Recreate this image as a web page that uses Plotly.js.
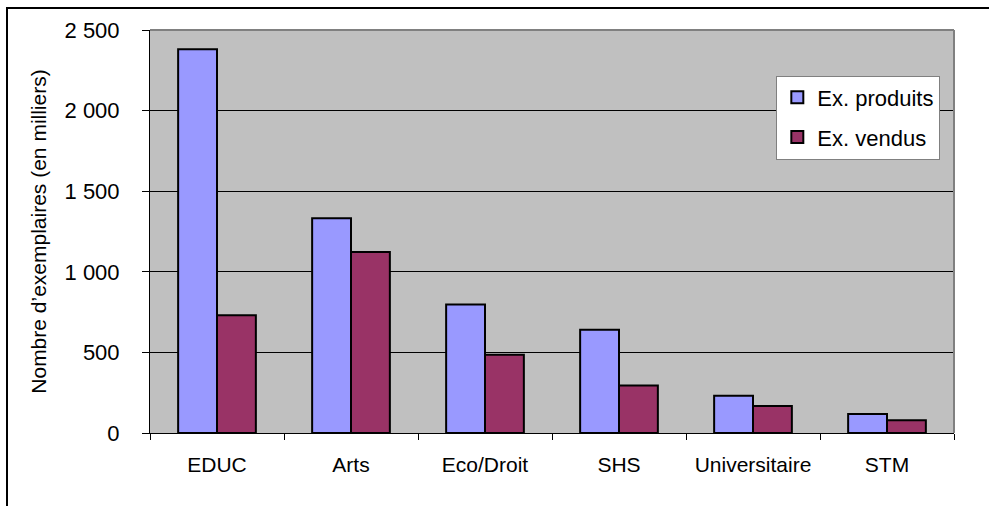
<!DOCTYPE html>
<html>
<head>
<meta charset="utf-8">
<script src="https://cdn.plot.ly/plotly-3.0.1.min.js"></script>
<style>
html,body{margin:0;padding:0;background:#fff;overflow:hidden;}
#wrap{position:relative;width:989px;height:506px;}
#chart{position:absolute;left:0;top:0;width:989px;height:506px;}
#frame{position:absolute;left:6px;top:7px;width:1000px;height:520px;border:2px solid #000;pointer-events:none;}
</style>
</head>
<body>
<div id="wrap"><div id="chart"></div><div id="frame"></div></div>
<script>
const categories = ["EDUC", "Arts", "Eco/Droit", "SHS", "Universitaire", "STM"];
const produits = [2380, 1332, 797, 640, 231, 118];
const vendus = [731, 1123, 485, 295, 167, 79];
const seriesNames = ["Ex. produits", "Ex. vendus"];
const yTickVals = [0, 500, 1000, 1500, 2000, 2500];
const yTickText = ["0", "500", "1 000", "1 500", "2 000", "2 500"];

const font = "Liberation Sans, Arial, sans-serif";

const traces = [
  {type: "bar", x: categories, y: produits, name: seriesNames[0], legendgroup: "a",
   marker: {color: "#9999FF", line: {color: "#000", width: 2}}},
  {type: "bar", x: categories, y: vendus, name: seriesNames[1], legendgroup: "b",
   marker: {color: "#993366", line: {color: "#000", width: 2}}}
];

const layout = {
  width: 989, height: 506,
  margin: {l: 150, r: 35, t: 30, b: 73, pad: 0},
  paper_bgcolor: "#fff",
  plot_bgcolor: "#C0C0C0",
  barmode: "group",
  bargap: 0.42,
  bargroupgap: 0,
  showlegend: true,
  legend: {
    x: 0.779, y: 0.887, xanchor: "left", yanchor: "top",
    bgcolor: "#fff", bordercolor: "#808080", borderwidth: 1,
    font: {family: font, size: 22, color: "#000"},
    traceorder: "grouped", tracegroupgap: 8,
    itemwidth: 30
  },
  xaxis: {
    type: "category",
    tickson: "boundaries",
    ticks: "outside", ticklen: 6, tickcolor: "#000", tickwidth: 1,
    showline: true, linecolor: "#000", linewidth: 1,
    showgrid: false, zeroline: false,
    tickfont: {family: font, size: 21, color: "#000"},
    ticklabelstandoff: 13
  },
  yaxis: {
    range: [0, 2500],
    tickvals: yTickVals, ticktext: yTickText,
    ticks: "outside", ticklen: 7, tickcolor: "#000", tickwidth: 1,
    showline: true, linecolor: "#000", linewidth: 1,
    showgrid: true, gridcolor: "#000", gridwidth: 1,
    zeroline: false,
    tickfont: {family: font, size: 22, color: "#000"},
    ticklabelstandoff: 18,
    title: {text: "Nombre d’exemplaires (en milliers)", font: {family: font, size: 21, color: "#000"}, standoff: 12}
  },
  shapes: [
    {type: "line", xref: "paper", yref: "paper", x0: 0, x1: 1, y0: 1, y1: 1, line: {color: "#808080", width: 2}},
    {type: "line", xref: "paper", yref: "paper", x0: 1, x1: 1, y0: 0, y1: 1, line: {color: "#808080", width: 2}}
  ]
};

Plotly.newPlot("chart", traces, layout, {displayModeBar: false, staticPlot: true});
</script>
</body>
</html>
